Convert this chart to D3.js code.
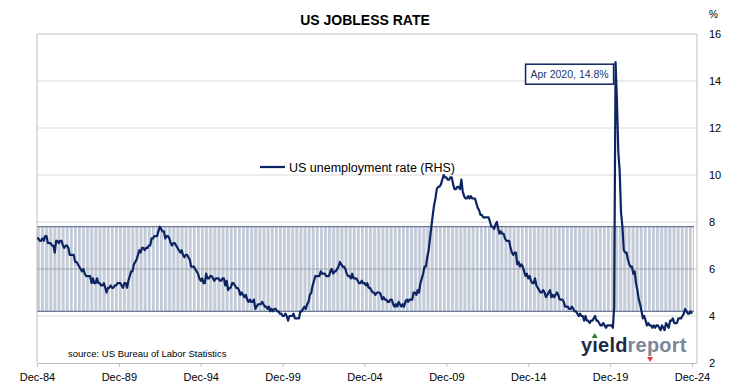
<!DOCTYPE html>
<html>
<head>
<meta charset="utf-8">
<script src="https://cdn.jsdelivr.net/npm/d3@7"></script>
<style>
  body { margin: 0; background: #fff; }
  text { font-family: "Liberation Sans", Arial, sans-serif; }
</style>
</head>
<body>
<div class="viz"></div>
<script>
const w = 729;
const h = 388;

// monthly US unemployment rate, Dec 1984 .. Dec 2024
const firstMonth = new Date(1984, 11, 1);
const rates = [
  7.3,
  7.3, 7.2, 7.2, 7.3, 7.2, 7.4, 7.4, 7.1, 7.1, 7.1, 7.0, 7.0, // 1985
  6.7, 7.2, 7.2, 7.1, 7.2, 7.2, 7.0, 6.9, 7.0, 7.0, 6.9, 6.6, // 1986
  6.6, 6.6, 6.6, 6.3, 6.3, 6.2, 6.1, 6.0, 5.9, 6.0, 5.8, 5.7, // 1987
  5.7, 5.7, 5.7, 5.4, 5.6, 5.4, 5.4, 5.6, 5.4, 5.4, 5.3, 5.3, // 1988
  5.4, 5.2, 5.0, 5.2, 5.2, 5.3, 5.2, 5.2, 5.3, 5.3, 5.4, 5.4, // 1989
  5.4, 5.3, 5.2, 5.4, 5.4, 5.2, 5.5, 5.7, 5.9, 5.9, 6.2, 6.3, // 1990
  6.4, 6.6, 6.8, 6.7, 6.9, 6.9, 6.8, 6.9, 6.9, 7.0, 7.0, 7.3, // 1991
  7.3, 7.4, 7.4, 7.4, 7.6, 7.8, 7.7, 7.6, 7.6, 7.3, 7.4, 7.4, // 1992
  7.3, 7.1, 7.0, 7.1, 7.1, 7.0, 6.9, 6.8, 6.7, 6.8, 6.6, 6.5, // 1993
  6.6, 6.6, 6.5, 6.4, 6.1, 6.1, 6.1, 6.0, 5.9, 5.8, 5.6, 5.5, // 1994
  5.6, 5.4, 5.4, 5.8, 5.6, 5.6, 5.7, 5.7, 5.6, 5.5, 5.6, 5.6, // 1995
  5.6, 5.5, 5.5, 5.6, 5.6, 5.3, 5.5, 5.1, 5.2, 5.2, 5.4, 5.4, // 1996
  5.3, 5.2, 5.2, 5.1, 4.9, 5.0, 4.9, 4.8, 4.9, 4.7, 4.6, 4.7, // 1997
  4.6, 4.6, 4.7, 4.3, 4.4, 4.5, 4.5, 4.5, 4.6, 4.5, 4.4, 4.4, // 1998
  4.3, 4.4, 4.2, 4.3, 4.2, 4.3, 4.3, 4.2, 4.2, 4.1, 4.1, 4.0, // 1999
  4.0, 4.1, 4.0, 3.8, 4.0, 4.0, 4.0, 4.1, 3.9, 3.9, 3.9, 3.9, // 2000
  4.2, 4.2, 4.3, 4.4, 4.3, 4.5, 4.6, 4.9, 5.0, 5.3, 5.5, 5.7, // 2001
  5.7, 5.7, 5.7, 5.9, 5.8, 5.8, 5.8, 5.7, 5.7, 5.7, 5.9, 6.0, // 2002
  5.8, 5.9, 5.9, 6.0, 6.1, 6.3, 6.2, 6.1, 6.1, 6.0, 5.8, 5.7, // 2003
  5.7, 5.6, 5.8, 5.6, 5.6, 5.6, 5.5, 5.4, 5.4, 5.5, 5.4, 5.4, // 2004
  5.3, 5.4, 5.2, 5.2, 5.1, 5.0, 5.0, 4.9, 5.0, 5.0, 5.0, 4.9, // 2005
  4.7, 4.8, 4.7, 4.7, 4.6, 4.6, 4.7, 4.7, 4.5, 4.4, 4.5, 4.4, // 2006
  4.6, 4.5, 4.4, 4.5, 4.4, 4.6, 4.7, 4.6, 4.7, 4.7, 4.7, 5.0, // 2007
  5.0, 4.9, 5.1, 5.0, 5.4, 5.6, 5.8, 6.1, 6.1, 6.5, 6.8, 7.3, // 2008
  7.8, 8.3, 8.7, 9.0, 9.4, 9.5, 9.5, 9.6, 9.8, 10.0, 9.9, 9.9, // 2009
  9.8, 9.8, 9.9, 9.9, 9.6, 9.4, 9.4, 9.5, 9.5, 9.4, 9.8, 9.3, // 2010
  9.1, 9.0, 9.0, 9.1, 9.0, 9.1, 9.0, 9.0, 9.0, 8.8, 8.6, 8.5, // 2011
  8.3, 8.3, 8.2, 8.2, 8.2, 8.2, 8.2, 8.0, 7.8, 7.8, 7.7, 7.9, // 2012
  8.0, 7.7, 7.5, 7.6, 7.5, 7.5, 7.3, 7.2, 7.2, 7.2, 6.9, 6.7, // 2013
  6.6, 6.7, 6.7, 6.2, 6.3, 6.1, 6.2, 6.1, 5.9, 5.7, 5.8, 5.6, // 2014
  5.7, 5.5, 5.4, 5.4, 5.6, 5.3, 5.2, 5.1, 5.0, 5.0, 5.1, 5.0, // 2015
  4.8, 4.9, 5.0, 5.1, 4.8, 4.9, 4.8, 4.9, 5.0, 4.9, 4.7, 4.7, // 2016
  4.7, 4.6, 4.4, 4.4, 4.4, 4.3, 4.3, 4.4, 4.3, 4.2, 4.2, 4.1, // 2017
  4.0, 4.1, 4.0, 4.0, 3.8, 4.0, 3.8, 3.8, 3.7, 3.8, 3.8, 3.9, // 2018
  4.0, 3.8, 3.8, 3.7, 3.6, 3.6, 3.7, 3.6, 3.5, 3.6, 3.6, 3.6, // 2019
  3.6, 3.5, 4.4, 14.8, 13.2, 11.0, 10.2, 8.4, 7.8, 6.8, 6.7, 6.7, // 2020
  6.4, 6.2, 6.1, 6.1, 5.8, 5.9, 5.4, 5.1, 4.7, 4.5, 4.2, 3.9, // 2021
  4.0, 3.8, 3.6, 3.7, 3.6, 3.6, 3.5, 3.6, 3.5, 3.6, 3.6, 3.5, // 2022
  3.4, 3.6, 3.5, 3.4, 3.7, 3.6, 3.5, 3.8, 3.8, 3.9, 3.7, 3.7, // 2023
  3.7, 3.9, 3.9, 3.9, 4.0, 4.1, 4.3, 4.2, 4.1, 4.1, 4.2, 4.1  // 2024
];

// shaded range (long-run average +/- one std dev)
const bandRange = [4.2, 7.8];

const yTicks = [2, 4, 6, 8, 10, 12, 14, 16];
const xTickYears = [1984, 1989, 1994, 1999, 2004, 2009, 2014, 2019, 2024];

const title = "US JOBLESS RATE";
const seriesName = "US unemployment rate (RHS)";
const sourceNote = "source: US Bureau of Labor Statistics";

const navy = "#0c2461";

const data = rates.map((v, i) => ({ date: d3.timeMonth.offset(firstMonth, i), value: v }));

const plotL = 37, plotR = 697, plotT = 34, plotB = 363;

const x = d3.scaleTime()
    .domain([firstMonth, data[data.length - 1].date])
    .range([plotL, 692]);

const y = d3.scaleLinear()
    .domain([2, 16])
    .range([plotB, plotT]);

const bandEnd = x(data[data.length - 1].date) + 2;

const svg = d3.select(".viz")
    .append("svg")
    .attr("width", w)
    .attr("height", h);

// stripe pattern for the band
const pat = svg.append("defs").append("pattern")
    .attr("id", "stripes")
    .attr("patternUnits", "userSpaceOnUse")
    .attr("x", plotL)
    .attr("width", 4.1)
    .attr("height", 10);
pat.append("rect").attr("width", 4.1).attr("height", 10).attr("fill", "#fff");
pat.append("rect").attr("width", 3.0).attr("height", 10).attr("fill", "#c3cbd9");

// gridlines
svg.append("g")
    .selectAll("line")
    .data(yTicks.filter(t => t > 2 && t < 16))
    .enter()
    .append("line")
    .attr("x1", plotL).attr("x2", plotR)
    .attr("y1", d => y(d)).attr("y2", d => y(d))
    .style("stroke", "#d9d9d9");

// band
svg.append("rect")
    .attr("x", plotL)
    .attr("y", y(bandRange[1]))
    .attr("width", bandEnd - plotL)
    .attr("height", y(bandRange[0]) - y(bandRange[1]))
    .attr("fill", "url(#stripes)");

svg.append("g")
    .selectAll("line")
    .data(bandRange)
    .enter()
    .append("line")
    .attr("x1", plotL).attr("x2", bandEnd)
    .attr("y1", d => y(d)).attr("y2", d => y(d))
    .style("stroke", "#4a5a7c")
    .style("stroke-width", 1);

// gridlines that sit inside the band
svg.append("g")
    .selectAll("line")
    .data(yTicks.filter(t => t > bandRange[0] && t < bandRange[1]))
    .enter()
    .append("line")
    .attr("x1", plotL).attr("x2", bandEnd)
    .attr("y1", d => y(d)).attr("y2", d => y(d))
    .style("stroke", "#9da3ad");

// frame
svg.append("path")
    .attr("d", `M${plotL},${plotB}V${plotT}H${plotR}V${plotB}`)
    .style("fill", "none")
    .style("stroke", "#bfbfbf");

// x axis
const xAxis = d3.axisBottom(x)
    .tickValues(xTickYears.map(yr => new Date(yr, 11, 1)))
    .tickFormat(d3.timeFormat("%b-%y"))
    .tickSize(4)
    .tickSizeOuter(0);

const gx = svg.append("g")
    .attr("transform", `translate(0,${plotB})`)
    .call(xAxis);
gx.select(".domain").attr("d", `M${plotL},0.5H${plotR}`).style("stroke", "#bfbfbf");
gx.selectAll(".tick line").style("stroke", "#bfbfbf");
gx.selectAll(".tick text")
    .attr("y", 10)
    .style("font-family", "Liberation Sans, Arial, sans-serif")
    .style("font-size", "11px")
    .style("fill", "#000");

// right axis
const yAxis = d3.axisRight(y)
    .tickValues(yTicks)
    .tickSize(0)
    .tickPadding(0);

const gy = svg.append("g")
    .attr("transform", "translate(709,0)")
    .call(yAxis);
gy.select(".domain").remove();
gy.selectAll(".tick text")
    .style("font-family", "Liberation Sans, Arial, sans-serif")
    .style("font-size", "11px")
    .style("fill", "#000");

svg.append("text")
    .attr("x", 709)
    .attr("y", 18)
    .style("font-size", "10px")
    .text("%");

// series line
const line = d3.line()
    .x(d => x(d.date))
    .y(d => y(d.value));

svg.append("path")
    .datum(data)
    .attr("d", line)
    .style("fill", "none")
    .style("stroke", navy)
    .style("stroke-width", 2.2)
    .style("stroke-linejoin", "round");

// title
svg.append("text")
    .attr("x", 365)
    .attr("y", 25)
    .attr("text-anchor", "middle")
    .style("font-weight", "bold")
    .style("font-size", "14px")
    .text(title);

// legend
svg.append("line")
    .attr("x1", 260).attr("x2", 285)
    .attr("y1", 167).attr("y2", 167)
    .style("stroke", navy)
    .style("stroke-width", 2.2);
svg.append("text")
    .attr("x", 289)
    .attr("y", 171.5)
    .style("font-size", "12.5px")
    .text(seriesName);

// peak annotation
const peak = data[d3.maxIndex(data, d => d.value)];
const pkx = x(peak.date), pky = y(peak.value);
svg.append("rect")
    .attr("x", pkx - 90)
    .attr("y", pky + 2)
    .attr("width", 88)
    .attr("height", 20)
    .attr("fill", "#fff")
    .style("stroke", navy)
    .style("stroke-width", 1.5);
svg.append("line")
    .attr("x1", pkx - 2).attr("x2", pkx)
    .attr("y1", pky + 2).attr("y2", pky + 2)
    .style("stroke", navy)
    .style("stroke-width", 1.5);
svg.append("text")
    .attr("x", pkx - 46)
    .attr("y", pky + 16)
    .attr("text-anchor", "middle")
    .style("font-size", "10.5px")
    .style("fill", "#1a3772")
    .text(d3.timeFormat("%b %Y")(peak.date) + ", " + peak.value.toFixed(1) + "%");

// source
svg.append("text")
    .attr("x", 68)
    .attr("y", 357)
    .style("font-size", "9.5px")
    .style("fill", "#000")
    .text(sourceNote);

// logo
const logo = svg.append("text")
    .attr("x", 581)
    .attr("y", 352)
    .style("font-weight", "bold")
    .style("font-size", "20px")
    .style("letter-spacing", "0.2px");
logo.append("tspan").attr("fill", "#1f2a46").text("y\u0131eld");
logo.append("tspan").attr("fill", "#7c8697").text("report");

const n = logo.node();
const iPos = n.getStartPositionOfChar(1);
const iW = n.getSubStringLength(1, 1);
const pPos = n.getStartPositionOfChar(7);
const pW = n.getSubStringLength(7, 1);
const ix = iPos.x + iW / 2 - 0.5;
const ppx = pPos.x + pW / 2 - 3;

svg.append("path")
    .attr("d", `M${ix - 3},${338}L${ix + 3},${338}L${ix},${333}Z`)
    .attr("fill", "#2e7d32");
svg.append("path")
    .attr("d", `M${ppx - 3},${357}L${ppx + 3},${357}L${ppx},${362}Z`)
    .attr("fill", "#e53935");
</script>
</body>
</html>
